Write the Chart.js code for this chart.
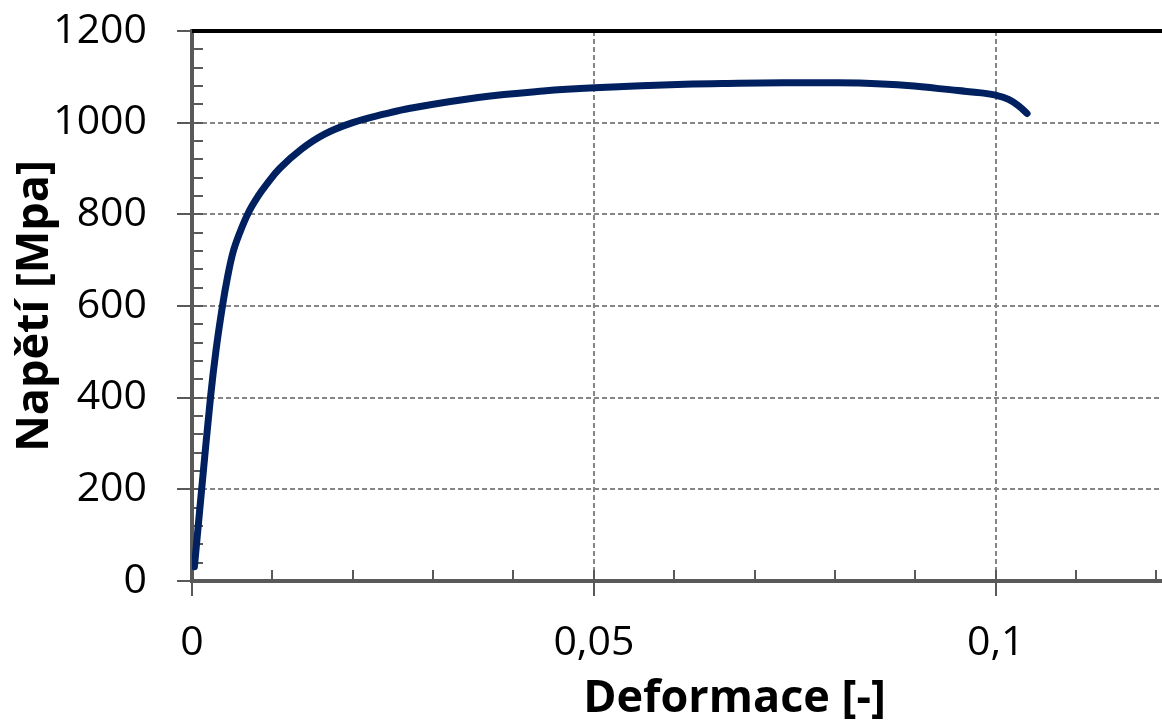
<!DOCTYPE html>
<html lang="cs">
<head>
<meta charset="utf-8">
<title>Napětí – deformace</title>
<script src="https://cdn.jsdelivr.net/npm/chart.js@4/dist/chart.umd.min.js"></script>
<style>
    html, body { margin: 0; padding: 0; background: #fff; overflow: hidden; }
    #wrap { position: relative; width: 1300px; height: 722px; }
</style>
</head>
<body>
<div id="wrap"><canvas id="tahovaZkouska"></canvas></div>
<script>
// Tahová zkouška – odečtené body křivky
const deformace = [0.0003, 0.0012, 0.0023, 0.0030, 0.0038, 0.0044, 0.0051, 0.0059, 0.0070, 0.0082,
    0.0093, 0.0109, 0.0136, 0.0165, 0.0200, 0.0240, 0.0273, 0.0356, 0.0437, 0.0501,
    0.0613, 0.0680, 0.0736, 0.0790, 0.0838, 0.0890, 0.0953, 0.0982, 0.1000, 0.1016,
    0.1029, 0.1039];
const napeti = [31, 200, 400, 505, 601, 661, 717, 758, 803, 839,
    866, 900, 942, 975, 1000, 1019, 1032, 1055, 1069, 1076,
    1084, 1086, 1087, 1087, 1086, 1081, 1070, 1065, 1060, 1051,
    1036, 1020];

// Osy
const xMin = 0, xMax = 0.135, xKrok = 0.01, xHlavni = 0.05;
const yMin = 0, yMax = 1200, yKrok = 40, yHlavni = 200;

const barvaOsy = '#595959';
const barvaMrizky = '#868686';
const barvaKrivky = '#002060';
const pismo = "'Open Sans', 'Noto Sans', sans-serif";

const jeHlavni = (v, krok) => Math.abs(Math.round(v / krok) * krok - v) < 1e-9;
const formatCz = v => String(Math.round(v * 1000) / 1000).replace('.', ',');

// vnitřní značky na osách + silná horní hrana
const vnitrniZnacky = {
    id: 'vnitrniZnacky',
    beforeDatasetsDraw(chart) {
        const {ctx, chartArea: a, scales: {x, y}} = chart;
        ctx.save();
        ctx.strokeStyle = barvaOsy;
        ctx.lineWidth = 2;
        ctx.beginPath();
        x.ticks.forEach(t => {
            if (t.value <= xMin) return;
            const px = Math.round(x.getPixelForValue(t.value));
            ctx.moveTo(px, a.bottom);
            ctx.lineTo(px, a.bottom - 11);
        });
        y.ticks.forEach(t => {
            if (t.value <= yMin || t.value >= yMax) return;
            const py = Math.round(y.getPixelForValue(t.value));
            ctx.moveTo(a.left, py);
            ctx.lineTo(a.left + 11, py);
        });
        ctx.stroke();

        ctx.strokeStyle = '#000';
        ctx.lineWidth = 4;
        ctx.beginPath();
        ctx.moveTo(a.left, a.top);
        ctx.lineTo(a.right, a.top);
        ctx.stroke();
        ctx.restore();
    }
};

const ctx = document.getElementById('tahovaZkouska');
new Chart(ctx, {
    type: 'line',
    data: {
        datasets: [{
            data: deformace.map((d, i) => ({x: d, y: napeti[i]})),
            borderColor: barvaKrivky,
            borderWidth: 7,
            borderCapStyle: 'round',
            borderJoinStyle: 'round',
            pointRadius: 0,
            tension: 0.4,
            fill: false
        }]
    },
    options: {
        responsive: true,
        maintainAspectRatio: false,
        animation: false,
        layout: { padding: { top: 31, right: 10, left: 0, bottom: 0 } },
        plugins: {
            legend: { display: false },
            tooltip: { enabled: false }
        },
        scales: {
            x: {
                type: 'linear',
                min: xMin,
                max: xMax,
                afterFit(scale) { scale.height = 141; },
                ticks: {
                    stepSize: xKrok,
                    autoSkip: false,
                    maxRotation: 0,
                    padding: 23,
                    color: '#000',
                    font: { family: pismo, size: 41 },
                    callback: v => jeHlavni(v, xHlavni) ? formatCz(v) : ''
                },
                grid: {
                    lineWidth: 2,
                    tickLength: 15,
                    tickWidth: 2,
                    color: c => (c.tick && c.tick.value > xMin && jeHlavni(c.tick.value, xHlavni)) ? barvaMrizky : 'rgba(0,0,0,0)',
                    tickColor: c => (c.tick && jeHlavni(c.tick.value, xHlavni)) ? barvaOsy : 'rgba(0,0,0,0)'
                },
                border: { color: barvaOsy, width: 4, dash: [5, 3] },
                title: {
                    display: true,
                    text: 'Deformace [-]',
                    color: '#000',
                    font: { family: pismo, size: 45, weight: 'bold', lineHeight: 1 },
                    padding: { top: 0, bottom: 0 }
                }
            },
            y: {
                min: yMin,
                max: yMax,
                afterFit(scale) {
                    scale.width = 192;
                    // popisky nemají posouvat horní hranu grafu
                    scale.paddingTop = 0;
                    scale.paddingBottom = 0;
                },
                ticks: {
                    stepSize: yKrok,
                    autoSkip: false,
                    padding: 30,
                    color: '#000',
                    font: { family: pismo, size: 41 },
                    callback: v => jeHlavni(v, yHlavni) ? String(v) : ''
                },
                grid: {
                    lineWidth: 2,
                    tickLength: 15,
                    tickWidth: 2,
                    color: c => (c.tick && c.tick.value > yMin && c.tick.value < yMax && jeHlavni(c.tick.value, yHlavni)) ? barvaMrizky : 'rgba(0,0,0,0)',
                    tickColor: c => (c.tick && jeHlavni(c.tick.value, yHlavni)) ? barvaOsy : 'rgba(0,0,0,0)'
                },
                border: { color: barvaOsy, width: 4, dash: [5, 3] },
                title: {
                    display: true,
                    text: 'Napětí [Mpa]',
                    color: '#000',
                    font: { family: pismo, size: 45, weight: 'bold', lineHeight: 1 },
                    padding: { top: 13, bottom: 0 }
                }
            }
        }
    },
    plugins: [vnitrniZnacky]
});
</script>
</body>
</html>
